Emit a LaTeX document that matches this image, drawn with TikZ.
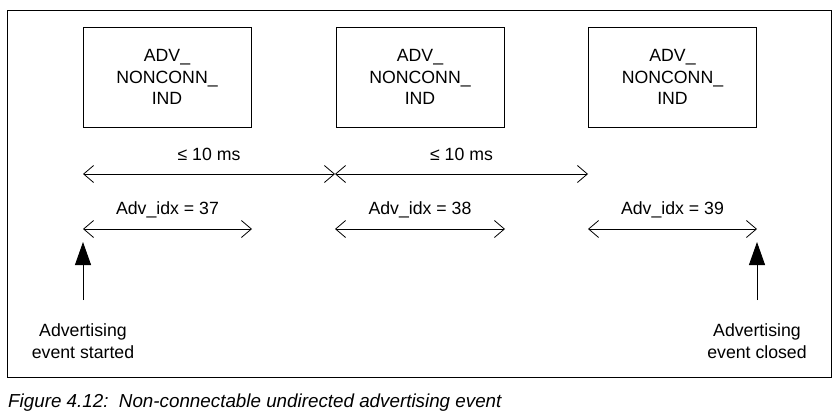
\documentclass[tikz,border=0pt]{standalone}
\usepackage{fontspec}
\setmainfont{Liberation Sans}
\usetikzlibrary{arrows.meta}
\begin{document}
\begin{tikzpicture}[x=1pt,y=-1pt,
  box/.style={draw, line width=0.9pt, minimum width=168pt, minimum height=100pt, align=center, inner sep=0pt, font=\fontsize{17.7}{21.5}\selectfont},
  lbl/.style={font=\fontsize{17.7}{21.5}\selectfont, inner sep=0pt, align=center},
  dim/.style={line width=0.8pt, {Straight Barb[length=10pt,width=17pt]}-{Straight Barb[length=10pt,width=17pt]}},
  evt/.style={line width=0.9pt, -{Triangle[length=23pt,width=16pt]}}]
\useasboundingbox (0,0) rectangle (837,418);
\draw[line width=0.9pt] (7,10) rectangle (831,377);
% boxes
\node[box] (b1) at (167,77) {ADV\_\\NONCONN\_\\IND};
\node[box] (b2) at (420,77) {ADV\_\\NONCONN\_\\IND};
\node[box] (b3) at (672.5,77) {ADV\_\\NONCONN\_\\IND};
% interval arrows
\coordinate (t1) at (83,174);
\coordinate (t2) at (335,174);
\coordinate (t3) at (588,174);
\draw[dim] (t1) -- node[lbl, above=13pt] (i1) {≤ 10 ms} (t2);
\draw[dim] (t2) -- node[lbl, above=13pt] (i2) {≤ 10 ms} (t3);
% adv idx arrows
\coordinate (a1s) at (83,229);  \coordinate (a1e) at (252,229);
\coordinate (a2s) at (335,229); \coordinate (a2e) at (505,229);
\coordinate (a3s) at (588,229); \coordinate (a3e) at (757,229);
\draw[dim] (a1s) -- node[lbl, above=11pt] (x1) {Adv\_idx = 37} (a1e);
\draw[dim] (a2s) -- node[lbl, above=11pt] (x2) {Adv\_idx = 38} (a2e);
\draw[dim] (a3s) -- node[lbl, above=11pt] (x3) {Adv\_idx = 39} (a3e);
% events
\node[lbl] (es) at (83,341) {Advertising\\event started};
\node[lbl] (ec) at (757,341) {Advertising\\event closed};
\coordinate (es0) at (83,300); \coordinate (es1) at (83,242);
\coordinate (ec0) at (757,300); \coordinate (ec1) at (757,242);
\draw[evt] (es0) -- (es1);
\draw[evt] (ec0) -- (ec1);
% caption
\node[anchor=base west, inner sep=0pt, font=\fontsize{18.8}{22}\selectfont\itshape] (cap) at (8,407) {Figure 4.12:\ \ Non-connectable undirected advertising event};
\end{tikzpicture}
\end{document}
